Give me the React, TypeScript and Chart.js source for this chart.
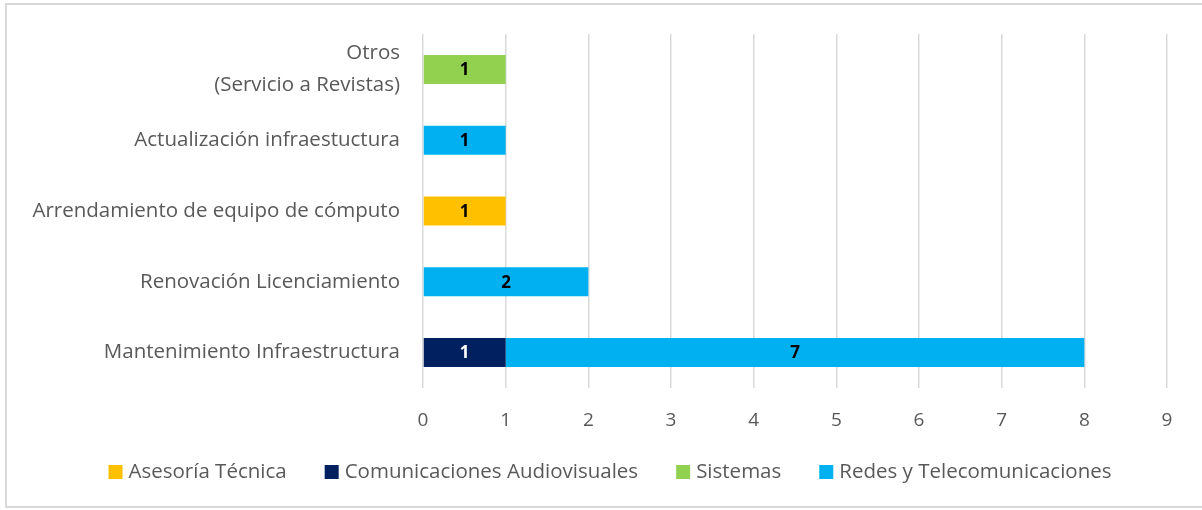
import React, { useEffect, useRef } from "react";
import { Chart, registerables } from "chart.js";

Chart.register(...registerables);

const categories: (string | string[])[] = [
  ["Otros", "(Servicio a Revistas)"],
  "Actualización infraestuctura",
  "Arrendamiento de equipo de cómputo",
  "Renovación Licenciamiento",
  "Mantenimiento Infraestructura",
];

const seriesNames = [
  "Asesoría Técnica",
  "Comunicaciones Audiovisuales",
  "Sistemas",
  "Redes y Telecomunicaciones",
];

const asesoria = [null, null, 1, null, null];
const comunicaciones = [null, null, null, null, 1];
const sistemas = [1, null, null, null, null];
const redes = [null, 1, null, 2, 7];

const seriesColors = ["#FFC000", "#002060", "#92D050", "#00B0F0"];
const labelColors = ["#000000", "#FFFFFF", "#000000", "#000000"];

const xTicks = [0, 1, 2, 3, 4, 5, 6, 7, 8, 9];

const FONT = "'Open Sans', Lato, sans-serif";
const TEXT_COLOR = "#595959";

const valueLabels = {
  id: "valueLabels",
  afterDatasetsDraw(chart: any) {
    const ctx = chart.ctx;
    ctx.save();
    ctx.font = `bold 17px ${FONT}`;
    ctx.textAlign = "center";
    ctx.textBaseline = "middle";
    chart.data.datasets.forEach((ds: any, i: number) => {
      const meta = chart.getDatasetMeta(i);
      if (meta.hidden) return;
      meta.data.forEach((el: any, j: number) => {
        const v = ds.data[j];
        if (v === null || v === undefined || v === 0) return;
        const p = el.getProps(["x", "y", "base"], true);
        ctx.fillStyle = labelColors[i];
        ctx.fillText(String(v), (p.x + p.base) / 2, p.y + 1);
      });
    });
    ctx.restore();
  },
};

// Legend drawn from the chart's own datasets (spacing like the original)
const bottomLegend = {
  id: "bottomLegend",
  afterDraw(chart: any) {
    const ctx = chart.ctx;
    const box = 14;
    const gapText = 6;
    const gapItem = 38;
    const centerX = 610;
    const centerY = 472;
    ctx.save();
    ctx.font = `20.5px ${FONT}`;
    ctx.textBaseline = "middle";
    ctx.textAlign = "left";
    const items = chart.data.datasets.map((ds: any) => ({
      text: ds.label,
      color: ds.backgroundColor,
      w: ctx.measureText(ds.label).width,
    }));
    const total =
      items.reduce((s: number, it: any) => s + box + gapText + it.w, 0) +
      gapItem * (items.length - 1);
    let x = centerX - total / 2;
    items.forEach((it: any) => {
      ctx.fillStyle = it.color;
      ctx.fillRect(x, centerY - box / 2, box, box);
      ctx.fillStyle = TEXT_COLOR;
      ctx.fillText(it.text, x + box + gapText, centerY);
      x += box + gapText + it.w + gapItem;
    });
    ctx.restore();
  },
};

export default function App() {
  const ref = useRef<HTMLCanvasElement>(null);
  useEffect(() => {
    if (!ref.current) return;
    const data = [asesoria, comunicaciones, sistemas, redes];
    const chart = new Chart(ref.current, {
      type: "bar",
      data: {
        labels: categories,
        datasets: seriesNames.map((name, i) => ({
          label: name,
          data: data[i] as any,
          backgroundColor: seriesColors[i],
          borderWidth: 0,
          barPercentage: 0.41,
          categoryPercentage: 1,
        })),
      },
      options: {
        indexAxis: "y",
        animation: false,
        responsive: false,
        maintainAspectRatio: false,
        layout: { padding: { top: 34, right: 35, left: 0, bottom: 70 } },
        scales: {
          x: {
            stacked: true,
            min: 0,
            max: 9,
            afterBuildTicks: (scale: any) => {
              scale.ticks = xTicks.map((v) => ({ value: v }));
            },
            afterFit: (scale: any) => {
              scale.height = 52;
              scale.paddingLeft = 0;
              scale.paddingRight = 0;
            },
            grid: { color: "#D9D9D9", lineWidth: 1.5, drawTicks: false },
            border: { display: false },
            ticks: {
              padding: 21,
              color: TEXT_COLOR,
              font: { family: FONT, size: 19 },
            },
          },
          y: {
            stacked: true,
            afterFit: (scale: any) => {
              scale.width = 423;
              scale.paddingTop = 0;
              scale.paddingBottom = 0;
            },
            grid: { display: false, drawTicks: false },
            border: { display: false },
            ticks: {
              padding: 23,
              color: TEXT_COLOR,
              font: { family: FONT, size: 20.5, lineHeight: 1.58 },
            },
          },
        },
        plugins: {
          legend: { display: false },
          tooltip: { enabled: false },
        },
      },
      plugins: [valueLabels, bottomLegend],
    } as any);
    return () => chart.destroy();
  }, []);

  return (
    <div
      style={{
        position: "fixed",
        left: 0,
        top: 0,
        width: 1202,
        height: 510,
        background: "#fff",
        overflow: "hidden",
      }}
    >
      <div
        style={{
          position: "absolute",
          left: 5,
          top: 3,
          width: 1200,
          height: 505,
          borderTop: "2px solid #D9D9D9",
          borderLeft: "2px solid #D9D9D9",
          borderBottom: "2px solid #D9D9D9",
          boxSizing: "border-box",
        }}
      />
      <canvas
        ref={ref}
        width={1202}
        height={510}
        style={{ position: "absolute", left: 0, top: 0, width: 1202, height: 510 }}
      />
    </div>
  );
}
